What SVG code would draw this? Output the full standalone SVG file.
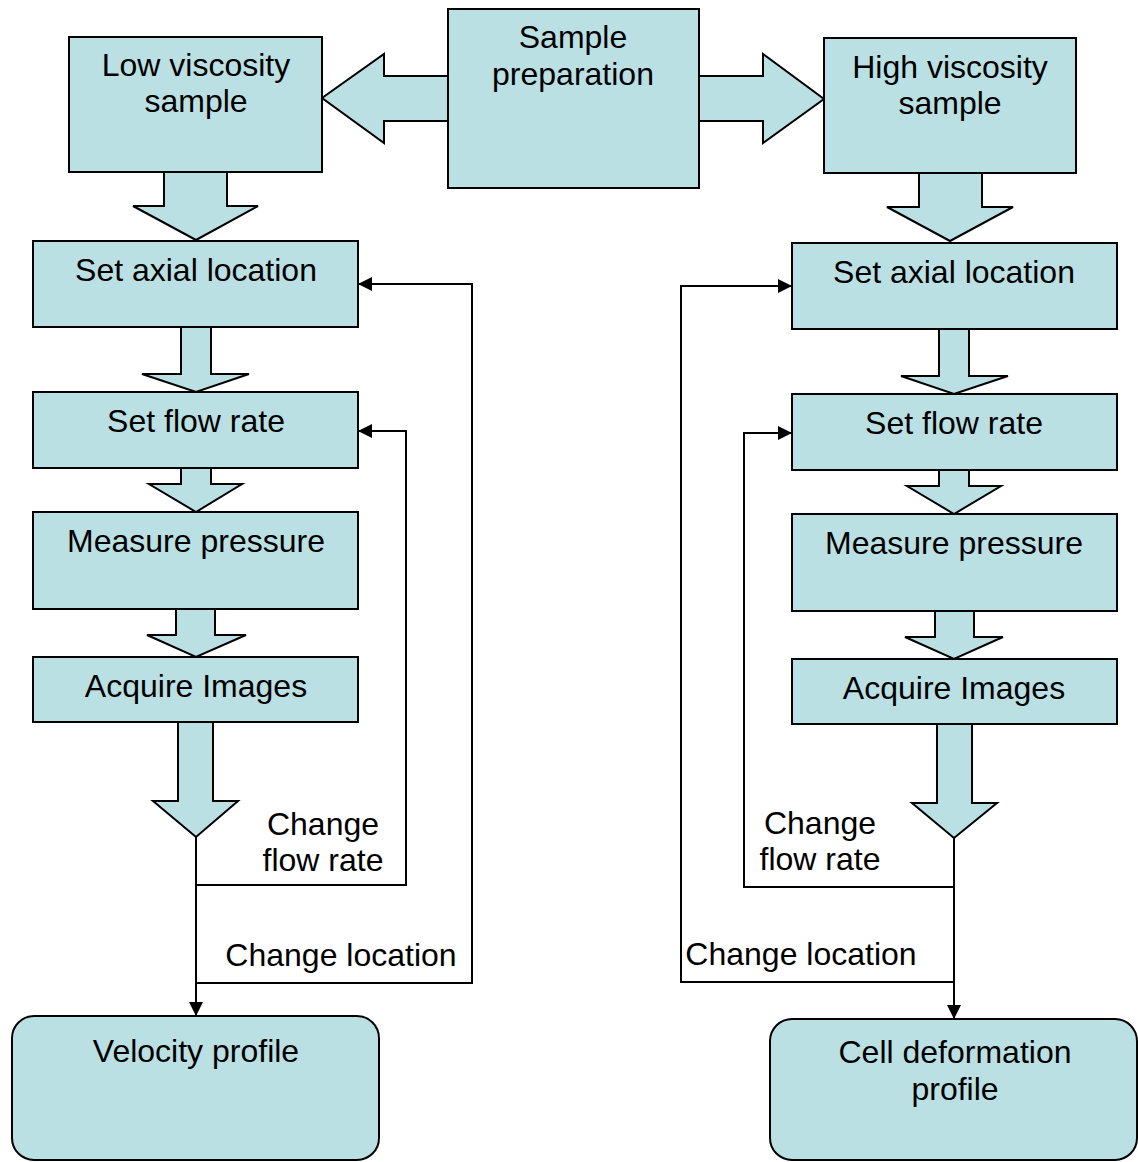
<svg xmlns="http://www.w3.org/2000/svg" width="1138" height="1162" viewBox="0 0 1138 1162">
<style>
.box{fill:#BBE0E3;stroke:#000;stroke-width:2}
.blk{fill:#BBE0E3;stroke:#000;stroke-width:2;stroke-linejoin:miter}
.ln{fill:none;stroke:#000;stroke-width:2}
text{font-family:"Liberation Sans",Arial,sans-serif;font-size:32px;fill:#000;text-anchor:middle}
</style>
<defs>
<marker id="ah" markerUnits="userSpaceOnUse" markerWidth="14" markerHeight="14" refX="14" refY="7" orient="auto">
<path d="M0,0 L14,7 L0,14 z" fill="#000"/>
</marker>
</defs>
<rect width="1138" height="1162" fill="#fff"/>
<g id="connectors">
<polygon class="blk" points="448,76 384,76 384,54 322,98 384,143 384,121 448,121"/>
<polygon class="blk" points="699,76 763,76 763,54 824,99 763,143 763,121 699,121"/>
<polygon class="blk" points="164,172 227,172 227,206 258,206 196,240 133,206 164,206"/>
<polygon class="blk" points="181,327 211,327 211,374 249,374 196,392 142,374 181,374"/>
<polygon class="blk" points="181,468 211,468 211,484 242,484 196,512 149,484 181,484"/>
<polygon class="blk" points="176,609 215,609 215,635 246,635 196,657 147,635 176,635"/>
<polygon class="blk" points="178,722 213,722 213,801 238,801 196,837 153,801 178,801"/>
<polygon class="blk" points="919,173 982,173 982,207 1013,207 950,241 887,207 919,207"/>
<polygon class="blk" points="939,329 969,329 969,376 1008,376 954,394 901,376 939,376"/>
<polygon class="blk" points="939,470 969,470 969,486 1001,486 954,514 907,486 939,486"/>
<polygon class="blk" points="935,611 974,611 974,637 1003,637 954,659 905,637 935,637"/>
<polygon class="blk" points="937,724 972,724 972,803 997,803 954,838 912,803 937,803"/>
<path class="ln" d="M196,837 V1016" marker-end="url(#ah)"/>
<path class="ln" d="M196,885 H406 V431 H358" marker-end="url(#ah)"/>
<path class="ln" d="M196,983 H472 V284 H358" marker-end="url(#ah)"/>
<path class="ln" d="M954,838 V1019" marker-end="url(#ah)"/>
<path class="ln" d="M954,887 H744 V433 H792" marker-end="url(#ah)"/>
<path class="ln" d="M954,982 H681 V286 H792" marker-end="url(#ah)"/>
<text x="323" y="835">Change</text>
<text x="323" y="871">flow rate</text>
<text x="341" y="966">Change location</text>
<text x="820" y="834">Change</text>
<text x="820" y="870">flow rate</text>
<text x="801" y="965">Change location</text>
</g>
<g id="sample-prep">
<rect class="box" x="448" y="9" width="251" height="179"/>
<text x="573" y="48">Sample</text>
<text x="573" y="85">preparation</text>
</g>
<g id="low-viscosity">
<rect class="box" x="69" y="37" width="253" height="135"/>
<text x="196" y="76">Low viscosity</text>
<text x="196" y="112">sample</text>
</g>
<g id="high-viscosity">
<rect class="box" x="824" y="38" width="252" height="135"/>
<text x="950" y="78">High viscosity</text>
<text x="950" y="114">sample</text>
</g>
<g id="left-axial">
<rect class="box" x="33" y="241" width="325" height="86"/>
<text x="196" y="281">Set axial location</text>
</g>
<g id="left-flow">
<rect class="box" x="33" y="392" width="325" height="76"/>
<text x="196" y="432">Set flow rate</text>
</g>
<g id="left-pressure">
<rect class="box" x="33" y="512" width="325" height="97"/>
<text x="196" y="552">Measure pressure</text>
</g>
<g id="left-images">
<rect class="box" x="33" y="657" width="325" height="65"/>
<text x="196" y="697">Acquire Images</text>
</g>
<g id="velocity-profile">
<rect class="box" x="12" y="1016" width="367" height="144" rx="22"/>
<text x="196" y="1062">Velocity profile</text>
</g>
<g id="right-axial">
<rect class="box" x="792" y="243" width="325" height="86"/>
<text x="954" y="283">Set axial location</text>
</g>
<g id="right-flow">
<rect class="box" x="792" y="394" width="325" height="76"/>
<text x="954" y="434">Set flow rate</text>
</g>
<g id="right-pressure">
<rect class="box" x="792" y="514" width="325" height="97"/>
<text x="954" y="554">Measure pressure</text>
</g>
<g id="right-images">
<rect class="box" x="792" y="659" width="325" height="65"/>
<text x="954" y="699">Acquire Images</text>
</g>
<g id="cell-deformation">
<rect class="box" x="770" y="1019" width="367" height="141" rx="22"/>
<text x="955" y="1063">Cell deformation</text>
<text x="955" y="1100">profile</text>
</g>
</svg>
